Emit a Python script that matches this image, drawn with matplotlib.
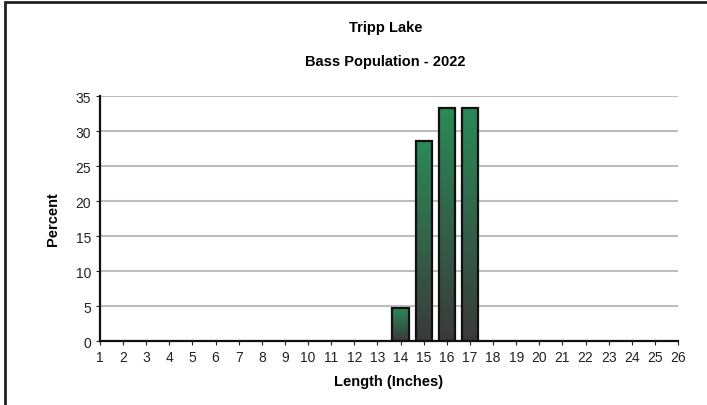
import numpy as np
import matplotlib.pyplot as plt
from matplotlib.colors import LinearSegmentedColormap
from matplotlib.patches import Rectangle

plt.rcParams['font.family'] = ['Liberation Sans', 'DejaVu Sans']

lengths = list(range(1, 27))
percent = [0, 0, 0, 0, 0, 0, 0, 0, 0, 0, 0, 0, 0, 4.76, 28.57, 33.33, 33.33,
           0, 0, 0, 0, 0, 0, 0, 0, 0]
yticks = [0, 5, 10, 15, 20, 25, 30, 35]

fig = plt.figure(figsize=(7.07, 4.06), dpi=100)
ax = fig.add_axes([0.1414, 0.1576, 0.8176, 0.6034])

# green-to-charcoal gradient for the bars
cmap = LinearSegmentedColormap.from_list('bar', ['#3a3a3a', '#2b8a58'])
grad = np.linspace(0, 1, 256).reshape(-1, 1)
width = 0.7
for x, v in zip(lengths, percent):
    if v <= 0:
        continue
    ax.imshow(grad, cmap=cmap, origin='lower', aspect='auto',
              extent=(x - width / 2, x + width / 2, 0, v), zorder=3)
    ax.bar(x, v, width=width, facecolor='none', edgecolor='#111111',
           linewidth=1.6, zorder=4)

ax.set_xlim(1, 26)
ax.set_ylim(0, 35)
ax.set_xticks(lengths)
ax.set_yticks(yticks)
ax.tick_params(labelsize=10, length=3, colors='#222222')
ax.yaxis.grid(True, color='#bdbdbd', linewidth=1.5)
ax.set_axisbelow(True)
for s in ['top', 'right']:
    ax.spines[s].set_visible(False)
for s in ['left', 'bottom']:
    ax.spines[s].set_linewidth(1.6)
    ax.spines[s].set_color('#111111')
    ax.spines[s].set_zorder(5)

ax.set_xlabel('Length (Inches)', fontsize=10.5, fontweight='bold', labelpad=7)
ax.set_ylabel('Percent', fontsize=10.5, fontweight='bold', labelpad=11)

fig.text(0.545, 0.93, 'Tripp Lake', ha='center', va='center',
         fontsize=10.5, fontweight='bold')
fig.text(0.545, 0.847, 'Bass Population - 2022', ha='center', va='center',
         fontsize=10.5, fontweight='bold')

# outer frame
fig.patches.append(Rectangle((0.007, -0.1), 1.1, 1.093, transform=fig.transFigure,
                             fill=False, edgecolor='#222222', linewidth=2))

fig.savefig('out.png', dpi=100)
